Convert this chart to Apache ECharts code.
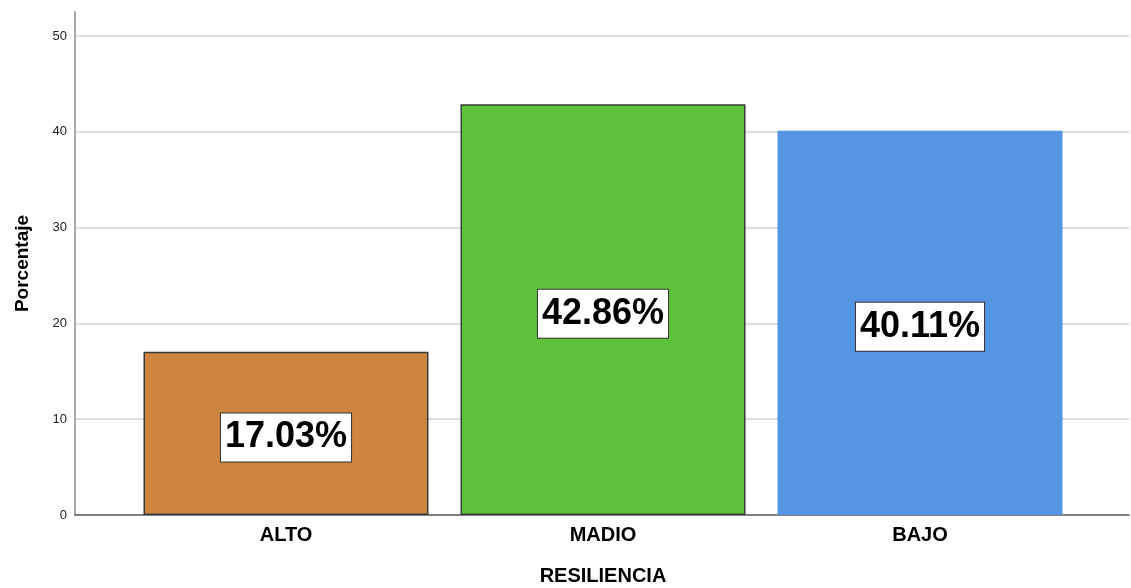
<!DOCTYPE html>
<html>
<head>
<meta charset="utf-8">
<script src="https://cdn.jsdelivr.net/npm/echarts@6/dist/echarts.min.js"></script>
<style>
html,body{margin:0;padding:0;background:#fff;}
#chart{width:1131px;height:588px;}
</style>
</head>
<body>
<div id="chart"></div>
<script>
const categories = ['ALTO', 'MADIO', 'BAJO'];
const percentages = [17.03, 42.86, 40.11];
const yTicks = [0, 10, 20, 30, 40, 50];

const FONT = '"Liberation Sans", Arial, sans-serif';
const barColors = ['#cd853f', '#5ec33a', '#5595e4'];
const barBorders = ['#3a3a3a', '#3a3a3a', 'transparent'];
const yMax = 52.5;

const chart = echarts.init(document.getElementById('chart'), null, {renderer: 'canvas'});
chart.setOption({
  backgroundColor: '#ffffff',
  animation: false,
  grid: [
    {left: 75, right: 2, top: 12, bottom: 73, containLabel: false, outerBoundsMode: 'none'},
    {left: 127.5, right: 52.5, top: 12, bottom: 73, containLabel: false, outerBoundsMode: 'none'}
  ],
  xAxis: [
    {
      gridIndex: 0, type: 'value', min: 0, max: 1,
      axisLine: {show: true, lineStyle: {color: '#555555', width: 1.5}},
      axisTick: {show: false}, axisLabel: {show: false}, splitLine: {show: false}
    },
    {
      gridIndex: 1, type: 'category', data: categories,
      axisLine: {show: false}, axisTick: {show: false},
      axisLabel: {margin: 10, fontSize: 20, fontWeight: 'bold', color: '#000', fontFamily: FONT},
      name: 'RESILIENCIA', nameLocation: 'middle', nameGap: 51,
      nameTextStyle: {fontSize: 20, fontWeight: 'bold', color: '#000', fontFamily: FONT}
    }
  ],
  yAxis: [
    {
      gridIndex: 0, type: 'value', min: 0, max: yMax, interval: 10,
      axisLine: {show: true, lineStyle: {color: '#a8a8a8', width: 2}},
      axisTick: {show: false},
      axisLabel: {
        margin: 8, fontSize: 13, color: '#222', fontFamily: FONT, showMaxLabel: false,
        formatter: v => (yTicks.indexOf(v) >= 0 ? String(v) : '')
      },
      splitLine: {show: true, showMinLine: false, showMaxLine: false, lineStyle: {color: '#d4d4d4', width: 1.5}},
      name: 'Porcentaje', nameLocation: 'middle', nameGap: 43, nameRotate: 90,
      nameTextStyle: {fontSize: 19, fontWeight: 'bold', color: '#000', fontFamily: FONT}
    },
    {
      gridIndex: 1, type: 'value', min: 0, max: yMax, interval: 10, show: false
    }
  ],
  series: [{
    type: 'bar',
    xAxisIndex: 1, yAxisIndex: 1,
    barWidth: 285,
    data: percentages.map((v, i) => ({
      value: v,
      itemStyle: {color: barColors[i], borderColor: barBorders[i], borderWidth: i < 2 ? 1.5 : 0}
    })),
    label: {
      show: true, position: 'inside', offset: [0, 4],
      formatter: p => p.value.toFixed(2) + '%',
      fontSize: 36, fontWeight: 'bold', color: '#000', fontFamily: FONT,
      backgroundColor: '#ffffff', borderColor: '#333333', borderWidth: 1,
      padding: [6, 4, 5, 4], lineHeight: 37
    }
  }]
});
</script>
</body>
</html>
